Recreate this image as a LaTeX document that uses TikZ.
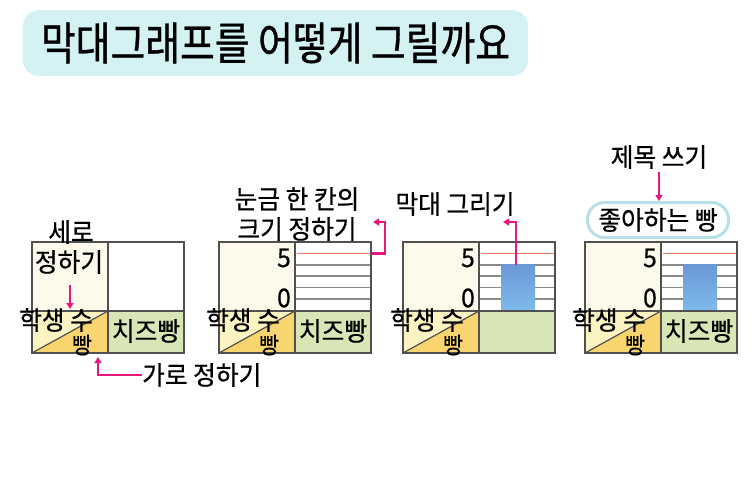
\documentclass[tikz,border=0pt]{standalone}
\usepackage{fontspec}
\setmainfont[FakeStretch=0.95,FakeBold=0.6]{Noto Sans CJK KR}
\newfontfamily\titlefont[FakeStretch=0.84,FakeBold=0.8]{Noto Sans CJK KR}
\usetikzlibrary{arrows.meta}
\definecolor{titlebg}{HTML}{D4F1F4}
\definecolor{cream}{HTML}{FDFAEC}
\definecolor{lightyel}{HTML}{FBF3C2}
\definecolor{golden}{HTML}{F8D56E}
\definecolor{greencell}{HTML}{D8E5B4}
\definecolor{borderc}{HTML}{505050}
\definecolor{gridc}{HTML}{8A8A8A}
\definecolor{redline}{HTML}{EE7F5E}
\definecolor{pinkc}{HTML}{E8177F}
\definecolor{bartop}{HTML}{6A98D8}
\definecolor{barbot}{HTML}{7EBBEA}
\definecolor{boxborder}{HTML}{B5E2E8}
\tikzset{
  lbl/.style={inner sep=0pt, font=\fontsize{26}{26}\selectfont},
  smalllbl/.style={inner sep=0pt, font=\fontsize{23}{23}\selectfont},
  pinkarrow/.style={draw=pinkc, line width=2.2pt, -{Triangle[length=6pt,width=7pt]}},
  tblborder/.style={draw=borderc, line width=1.8pt},
  gridline/.style={draw=gridc, line width=1.7pt},
}
\begin{document}
\begin{tikzpicture}[x=1pt,y=-1pt]
\useasboundingbox (0,0) rectangle (756,498);
% title
\node[fill=titlebg, rounded corners=16pt, minimum width=505pt, minimum height=66pt, inner sep=0pt] (title) at (275.5,43)
  {\titlefont\fontsize{45}{45}\selectfont 막대그래프를 어떻게 그릴까요};
% common table parts
\foreach \X in {32,219,403,585}{
  \begin{scope}[shift={(\X,0)}]
    \fill[cream] (0,242) rectangle (76,311);
    \fill[white] (76,242) rectangle (152,311);
    \fill[greencell] (76,311) rectangle (152,353);
    \fill[lightyel] (0,311) -- (76,311) -- (0,353) -- cycle;
    \fill[golden] (76,311) -- (76,353) -- (0,353) -- cycle;
    \draw[draw=borderc, line width=1.2pt] (0,353) -- (76,311);
  \end{scope}
}
% grids for tables 2,3,4
\foreach \X in {219,403,585}{
  \begin{scope}[shift={(\X,0)}]
    \foreach \yy in {264.8,276.2,287.6,299}{
      \draw[gridline] (76,\yy) -- (152,\yy);
    }
    \draw[draw=redline, line width=1.8pt] (78,253.5) -- (152,253.5);
    \node[lbl, anchor=east] at (72,258) {5};
    \node[lbl, anchor=east] at (72,298) {0};
  \end{scope}
}
% bars
\shade[top color=bartop, bottom color=barbot] (501,264.8) rectangle (535,311);
\shade[top color=bartop, bottom color=barbot] (683,264.8) rectangle (717,311);
% borders
\foreach \X in {32,219,403,585}{
  \begin{scope}[shift={(\X,0)}]
    \draw[tblborder] (0,242) rectangle (152,353);
    \draw[tblborder] (76,242) -- (76,353);
    \draw[tblborder] (0,311) -- (152,311);
    \node[lbl] at (24,320) {학생 수};
    \node[smalllbl] at (50,345) {빵};
  \end{scope}
}
\node[lbl] (cheese1) at (146,331) {치즈빵};
\node[lbl] (cheese2) at (333,331) {치즈빵};
\node[lbl] (cheese4) at (699,331) {치즈빵};
% table 1 labels
\node[lbl] (sero1) at (71,232) {세로};
\node[lbl] (sero2) at (69,262) {정하기};
\coordinate (sa) at (70,285);
\coordinate (sb) at (70,309);
\draw[pinkarrow] (sa) -- (sb);
\node[lbl, anchor=west] (garo) at (142,375) {가로 정하기};
\coordinate (ga) at (98,357);
\draw[pinkarrow] (garo.west) -| (ga);
% table 2
\node[lbl] (t2a) at (297,199) {눈금 한 칸의};
\node[lbl] (t2b) at (297,229) {크기 정하기};
\coordinate (r2) at (372,253.5);
\coordinate (r2t) at (373,222);
\draw[pinkarrow] (r2) -- (385,253.5) |- (r2t);
% table 3
\node[lbl] (t3) at (455,204) {막대 그리기};
\coordinate (b3) at (516,265);
\coordinate (b3t) at (503,222);
\draw[pinkarrow] (b3) |- (b3t);
% table 4
\node[lbl] (t4) at (659,157) {제목 쓰기};
\node[draw=boxborder, line width=3pt, fill=white, rounded corners=17pt, minimum width=141pt, minimum height=35pt, inner sep=0pt, font=\fontsize{26}{26}\selectfont] (t4box) at (658,220) {좋아하는 빵};
\draw[pinkarrow] (t4.south |- 0,172) -- (t4box.north -| t4.south);
\end{tikzpicture}
\end{document}
